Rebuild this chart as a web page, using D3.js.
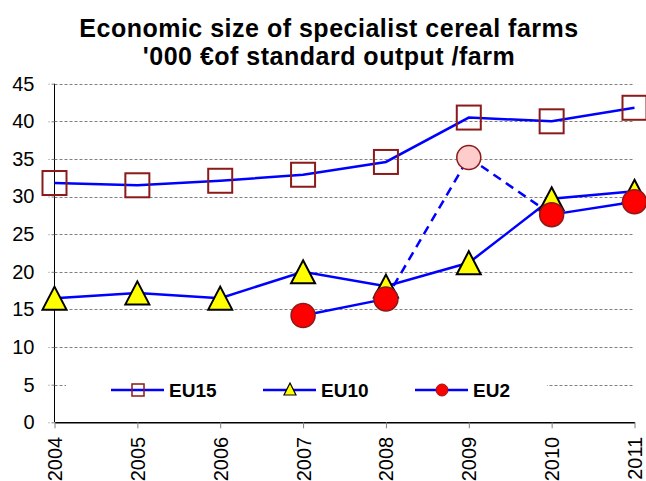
<!DOCTYPE html>
<html>
<head>
<meta charset="utf-8">
<script src="https://cdn.jsdelivr.net/npm/d3@7"></script>
<style>
  body { margin: 0; background: #fff; }
  svg { font-family: "Liberation Sans", Arial, sans-serif; }
</style>
</head>
<body>
<svg id="main"></svg>
<script>
var years = [2004, 2005, 2006, 2007, 2008, 2009, 2010, 2011];
var eu15 = [31.8, 31.5, 32.1, 32.9, 34.6, 40.5, 40.0, 41.8];
var eu10 = [16.5, 17.2, 16.5, 20.0, 18.1, 21.2, 29.7, 30.7];
// EU2 starts in 2007; 2009 is an estimate (drawn pink, dashed)
var eu2 = [null, null, null, 14.2, 16.4, 35.2, 27.6, 29.3];
var eu2Estimate = [false, false, false, false, false, true, false, false];
var yTicks = [0, 5, 10, 15, 20, 25, 30, 35, 40, 45];
var titleLines = ["Economic size of specialist cereal farms", "'000 \u20ACof standard output /farm"];

var w = 646;
var h = 481;
var plotLeft = 54.5, plotRight = 634.5, plotTop = 83.7, plotBottom = 422.3;

var svg = d3.select("#main")
  .attr("width", w)
  .attr("height", h);

var x = d3.scaleLinear().domain([2004, 2011]).range([plotLeft, plotRight]);
var y = d3.scaleLinear().domain([0, 45]).range([plotBottom, plotTop]);

// title
svg.selectAll("text.title")
  .data(titleLines)
  .enter()
  .append("text")
  .attr("class", "title")
  .attr("x", 329)
  .attr("y", function(d, i) { return 36.7 + i * 28.5; })
  .attr("text-anchor", "middle")
  .attr("font-size", 25)
  .attr("letter-spacing", 0.5)
  .attr("font-weight", "bold")
  .text(function(d) { return d; });

// gridlines
svg.append("g")
  .selectAll("line")
  .data(yTicks.filter(function(d) { return d > 0; }))
  .enter()
  .append("line")
  .attr("x1", plotLeft)
  .attr("x2", plotRight)
  .attr("y1", function(d) { return Math.round(y(d)) + 0.5; })
  .attr("y2", function(d) { return Math.round(y(d)) + 0.5; })
  .attr("stroke", "#808080")
  .attr("stroke-width", 1)
  .attr("stroke-dasharray", "3,2");

// y axis
var yAxis = d3.axisLeft(y).tickValues(yTicks).tickSize(6).tickPadding(14);
var gy = svg.append("g")
  .attr("transform", "translate(" + plotLeft + ",0)")
  .call(yAxis);
gy.select(".domain").attr("stroke", "#000").attr("d", "M0," + plotTop + "V" + plotBottom);
gy.selectAll(".tick line").attr("stroke", "#808080").attr("stroke-dasharray", "3,2");
gy.selectAll(".tick text").attr("font-size", 20).attr("fill", "#000")
  .attr("font-family", "Liberation Sans, Arial, sans-serif");

// x axis
var xAxis = d3.axisBottom(x).tickValues(years).tickFormat(d3.format("d")).tickSize(6).tickSizeOuter(0);
var gx = svg.append("g")
  .attr("transform", "translate(0," + plotBottom + ")")
  .call(xAxis);
gx.select(".domain").attr("stroke", "#000").attr("stroke-width", 1.5);
gx.selectAll(".tick line").attr("stroke", "#808080");
gx.selectAll(".tick text")
  .attr("font-size", 20)
  .attr("fill", "#000")
  .attr("font-family", "Liberation Sans, Arial, sans-serif")
  .attr("transform", "rotate(-90)")
  .attr("text-anchor", "end")
  .attr("x", -14.5)
  .attr("y", 0)
  .attr("dy", "0.35em");

// legend box (white, hides the 5 gridline)
var legend = svg.append("g");
legend.append("rect")
  .attr("x", 66).attr("y", 377).attr("width", 481).attr("height", 24)
  .attr("fill", "#fff");

var blue = "#0000ff";
var line = d3.line()
  .defined(function(d) { return d.v != null; })
  .x(function(d) { return x(d.year); })
  .y(function(d) { return y(d.v); });

function pts(arr) {
  return years.map(function(yr, i) { return { year: yr, v: arr[i], est: eu2Estimate[i] }; });
}

// triangle path centred on its box
function triPath(hw, hh) {
  return "M0," + (-hh) + "L" + hw + "," + hh + "L" + (-hw) + "," + hh + "Z";
}

// EU15
svg.append("path").datum(pts(eu15)).attr("d", line)
  .attr("fill", "none").attr("stroke", blue).attr("stroke-width", 2.5);
svg.selectAll("rect.eu15").data(pts(eu15)).enter().append("rect")
  .attr("class", "eu15")
  .attr("x", function(d) { return x(d.year) - 12; })
  .attr("y", function(d) { return y(d.v) - 12; })
  .attr("width", 24).attr("height", 24)
  .attr("fill", "none").attr("stroke", "#8b1a1a").attr("stroke-width", 2);

// EU10
svg.append("path").datum(pts(eu10)).attr("d", line)
  .attr("fill", "none").attr("stroke", blue).attr("stroke-width", 2.5);
svg.selectAll("path.eu10").data(pts(eu10)).enter().append("path")
  .attr("class", "eu10")
  .attr("d", triPath(12, 11.5))
  .attr("transform", function(d) { return "translate(" + x(d.year) + "," + y(d.v) + ")"; })
  .attr("fill", "#ffff00").attr("stroke", "#000").attr("stroke-width", 2)
  .attr("stroke-linejoin", "miter");

// EU2 segments: dashed where an estimate is involved
var p2 = pts(eu2);
var segs = [];
for (var i = 1; i < p2.length; i++) {
  if (p2[i - 1].v != null && p2[i].v != null) {
    segs.push({ a: p2[i - 1], b: p2[i], dashed: p2[i - 1].est || p2[i].est });
  }
}
svg.selectAll("line.eu2").data(segs).enter().append("line")
  .attr("class", "eu2")
  .attr("x1", function(d) { return x(d.a.year); })
  .attr("y1", function(d) { return y(d.a.v); })
  .attr("x2", function(d) { return x(d.b.year); })
  .attr("y2", function(d) { return y(d.b.v); })
  .attr("stroke", blue).attr("stroke-width", 2.5)
  .attr("stroke-dasharray", function(d) { return d.dashed ? "9,6" : null; });
svg.selectAll("circle.eu2").data(p2.filter(function(d) { return d.v != null; })).enter().append("circle")
  .attr("class", "eu2")
  .attr("cx", function(d) { return x(d.year); })
  .attr("cy", function(d) { return y(d.v); })
  .attr("r", 12)
  .attr("fill", function(d) { return d.est ? "#ffcccc" : "#ff0000"; })
  .attr("stroke", "#8b1a1a").attr("stroke-width", 1.5);

// legend entries
var items = [
  { name: "EU15", x0: 111 },
  { name: "EU10", x0: 263 },
  { name: "EU2", x0: 415 }
];
var ly = 390;
items.forEach(function(it) {
  var g = legend.append("g");
  g.append("line").attr("x1", it.x0).attr("x2", it.x0 + 53)
    .attr("y1", ly).attr("y2", ly).attr("stroke", blue).attr("stroke-width", 2.5);
  var cx = it.x0 + 27;
  if (it.name === "EU15") {
    g.append("rect").attr("x", cx - 6).attr("y", ly - 6).attr("width", 12).attr("height", 12)
      .attr("fill", "none").attr("stroke", "#8b1a1a").attr("stroke-width", 1.5);
  } else if (it.name === "EU10") {
    g.append("path").attr("d", triPath(6, 6))
      .attr("transform", "translate(" + cx + "," + (ly - 1) + ")")
      .attr("fill", "#ffff00").attr("stroke", "#000").attr("stroke-width", 1.2);
  } else {
    g.append("circle").attr("cx", cx).attr("cy", ly).attr("r", 6)
      .attr("fill", "#ff0000").attr("stroke", "#8b1a1a").attr("stroke-width", 1);
  }
  g.append("text").attr("x", it.x0 + 58).attr("y", ly + 6.5)
    .attr("font-size", 19).attr("font-weight", "bold").text(it.name);
});
</script>
</body>
</html>
